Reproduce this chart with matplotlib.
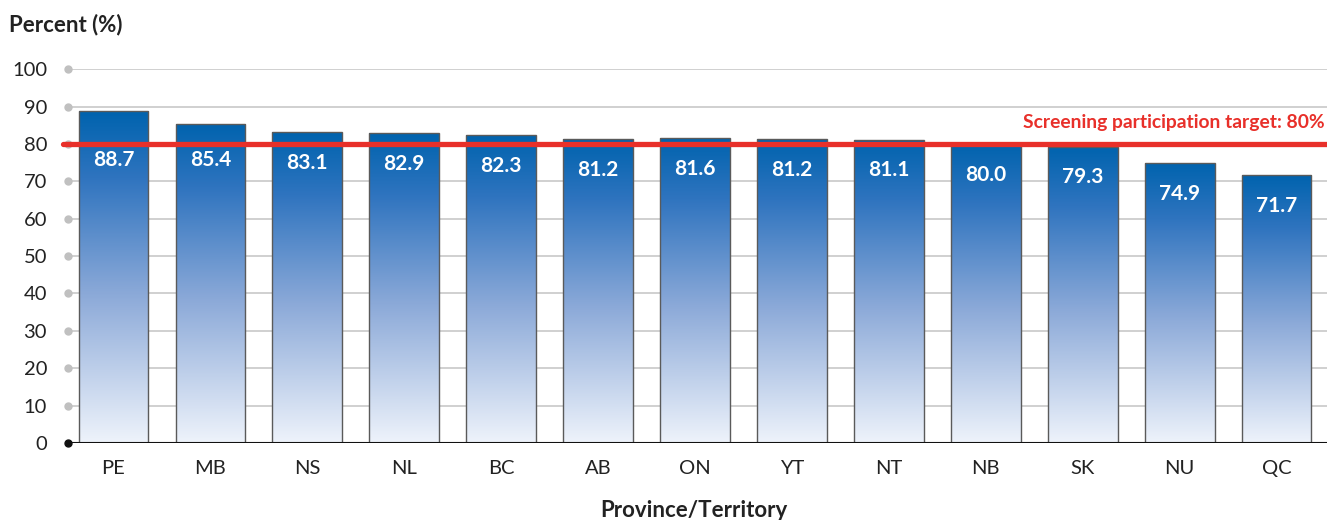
import numpy as np
import matplotlib.pyplot as plt
from matplotlib.colors import LinearSegmentedColormap

plt.rcParams['font.family'] = ['Lato', 'DejaVu Sans']

# 데이터
provinces = ['PE', 'MB', 'NS', 'NL', 'BC', 'AB', 'ON', 'YT', 'NT', 'NB', 'SK', 'NU', 'QC']
percent = [88.7, 85.4, 83.1, 82.9, 82.3, 81.2, 81.6, 81.2, 81.1, 80.0, 79.3, 74.9, 71.7]
target = 80
yticks = list(range(0, 101, 10))

cmap = LinearSegmentedColormap.from_list(
    'bar', [(0.0, '#eef3fb'), (0.45, '#8ba9d8'), (0.8, '#2f74bf'), (1.0, '#0063ae')])

fig = plt.figure(figsize=(13.27, 5.2), dpi=100)
ax = fig.add_axes([0.0512, 0.148, 0.9488, 0.719])

x = np.arange(len(provinces))
width = 0.72
ax.set_xlim(-0.47, len(provinces) - 0.48)
ax.set_ylim(0, 100)

# 격자선 + 왼쪽 점
for t in yticks[1:]:
    ax.axhline(t, color='#c8c8c8', lw=1.2, zorder=0)
    ax.plot(-0.47, t, 'o', color='#c0c0c0', ms=5, clip_on=False, zorder=1)
ax.plot(-0.47, 0, 'o', color='#111111', ms=5, clip_on=False, zorder=5)
ax.axhline(0, color='#111111', lw=1.5, zorder=4)

# 그라데이션 막대
grad = np.linspace(0, 1, 256).reshape(-1, 1)
bars = ax.bar(x, percent, width, facecolor='none', edgecolor='#5a5a5a', lw=1.0, zorder=3)
for b in bars:
    x0, h = b.get_x(), b.get_height()
    im = ax.imshow(grad, cmap=cmap, origin='lower', aspect='auto',
                   extent=[x0, x0 + b.get_width(), 0, h], zorder=2)
    im.set_clip_path(b)

# 목표선
ax.plot([-0.52, len(provinces) - 0.48], [target, target], color='#e8302a', lw=3.8,
        clip_on=False, zorder=6, solid_capstyle='round')
ax.text(len(provinces) - 0.5, 85.8, 'Screening participation target: 80%',
        color='#e8302a', fontsize=13.9, fontweight='bold', ha='right', va='center')

# 값 라벨
for xi, v in zip(x, percent):
    ax.text(xi, min(v, 84.0) - 8.2, f'{v:.1f}', color='white', fontsize=15,
            fontweight='bold', ha='center', va='center', zorder=7)

ax.set_xticks(x)
ax.set_xticklabels(provinces, fontsize=14.5, color='#222222')
ax.set_yticks(yticks)
ax.set_yticklabels([str(t) for t in yticks], fontsize=14.5, color='#222222')
ax.tick_params(length=0, axis='y', pad=15)
ax.tick_params(length=0, axis='x', pad=12)
for s in ax.spines.values():
    s.set_visible(False)

fig.text(0.007, 0.952, 'Percent (%)', fontsize=16, fontweight='bold', color='#222222',
         ha='left', va='center')
fig.text(0.523, 0.018, 'Province/Territory', fontsize=16, fontweight='bold',
         color='#222222', ha='center', va='center')

fig.savefig('out.png', dpi=100)
